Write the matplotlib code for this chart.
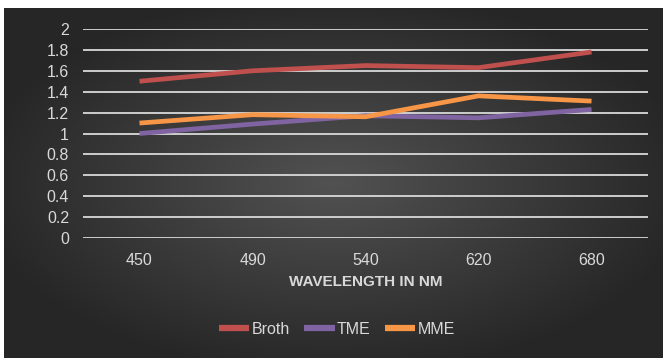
import matplotlib
matplotlib.use("Agg")
import matplotlib.pyplot as plt
import numpy as np

W, H, DPI = 663, 358, 100

wavelengths = ["450", "490", "540", "620", "680"]
broth = [1.50, 1.60, 1.65, 1.63, 1.78]
tme = [1.00, 1.09, 1.17, 1.15, 1.23]
mme = [1.10, 1.18, 1.16, 1.36, 1.31]
y_ticks = [0, 0.2, 0.4, 0.6, 0.8, 1, 1.2, 1.4, 1.6, 1.8, 2]
y_labels = ["0", "0.2", "0.4", "0.6", "0.8", "1", "1.2", "1.4", "1.6", "1.8", "2"]

series = [
    ("Broth", broth, "#c0504d"),
    ("TME", tme, "#8064a2"),
    ("MME", mme, "#f79646"),
]

plt.rcParams["font.family"] = ["Liberation Sans", "DejaVu Sans"]

fig = plt.figure(figsize=(W / DPI, H / DPI), dpi=DPI)
fig.patch.set_facecolor("white")

# dark radial background panel
bg = fig.add_axes([4 / W, 0, 1 - 4 / W, 1 - 8 / H])
bg.set_axis_off()
gx, gy = np.meshgrid(np.linspace(-1, 1, 400), np.linspace(-1, 1, 220))
r = np.clip(np.sqrt((gx / 1.1) ** 2 + (gy / 1.1) ** 2), 0, 1)
shade = 0.32 - 0.17 * r
bg.imshow(np.dstack([shade] * 3), aspect="auto", extent=[0, 1, 0, 1])

# plot area: gridlines x 83..648, y=2 at 29, y=0 at 238
left, right = 83 / W, 648 / W
top, bottom = 1 - 29 / H, 1 - 238 / H
ax = fig.add_axes([left, bottom, right - left, top - bottom])
ax.patch.set_alpha(0)

x = np.arange(len(wavelengths))
for name, vals, col in series:
    ax.plot(x, vals, color=col, lw=3.4, label=name, solid_capstyle="butt",
            solid_joinstyle="round", zorder=3)

ax.set_xlim(-0.5, len(wavelengths) - 0.5)
ax.set_ylim(0, 2)
ax.set_yticks(y_ticks)
ax.set_yticklabels(y_labels)
ax.set_xticks(x)
ax.set_xticklabels(wavelengths)
ax.yaxis.grid(True, color="#d9d9d9", lw=1.3, zorder=1)
ax.xaxis.grid(False)
ax.set_axisbelow(True)
for s in ax.spines.values():
    s.set_visible(False)
ax.tick_params(axis="both", length=0, colors="#d9d9d9", labelsize=11.5)
ax.tick_params(axis="y", pad=10)
ax.tick_params(axis="x", pad=11)

ax.set_xlabel("WAVELENGTH IN NM", color="#d9d9d9", fontsize=11,
              fontweight="bold", labelpad=5)

leg = fig.legend(loc="center", bbox_to_anchor=(337 / W, 1 - 329 / H), ncol=3,
                 frameon=False, fontsize=11.5, handlelength=1.9,
                 handletextpad=0.15, columnspacing=0.9)
for line in leg.get_lines():
    line.set_linewidth(4.5)
for t in leg.get_texts():
    t.set_color("#d9d9d9")

fig.savefig("out.png", dpi=DPI)
